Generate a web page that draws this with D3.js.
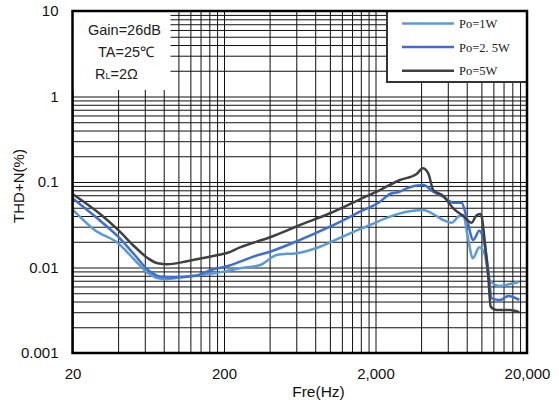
<!DOCTYPE html>
<html><head><meta charset="utf-8">
<script src="https://cdn.jsdelivr.net/npm/d3@7"></script>
<style>body{margin:0;background:#fff}svg{display:block}</style>
</head><body>
<svg id="c" width="559" height="407"></svg>
<script>
// ---- data ----
const seriesNames = ["Po=1W", "Po=2.5W", "Po=5W"];
const legendLabels = ["Po=1W", "Po=2. 5W", "Po=5W"];
const freq1W = [20,28,40,51.5,63,81,110,142,174,212,255,346,446,635,860,1357,1840,2490,3210,4140,4810,5600,6370,7040,7560,8200,8760,9690,10560,11280,13270,15450,17800];
const thd1W  = [0.0479,0.0275,0.0192,0.01224,0.00856,0.00728,0.0078,0.00818,0.00856,0.00918,0.00979,0.0107,0.0140,0.0149,0.0175,0.0251,0.0314,0.0393,0.0449,0.0471,0.0422,0.0359,0.0334,0.0393,0.0411,0.0210,0.0128,0.0172,0.0140,0.00714,0.00608,0.00641,0.00682];
const freq2W5 = [20,31,40,51.5,63,77,94.5,128,165,212,255,312,402,635,1000,1580,2140,2490,2900,3210,4140,4810,5600,6520,7410,7910,8840,9690,10400,11100,11700,13270,15050,17800];
const thd2W5  = [0.0645,0.0343,0.0229,0.0140,0.00935,0.0078,0.00768,0.00796,0.00935,0.0104,0.0117,0.0134,0.0153,0.0210,0.0300,0.0449,0.0588,0.0724,0.0770,0.0844,0.0923,0.0770,0.0673,0.0573,0.0573,0.0411,0.0210,0.0269,0.0200,0.00935,0.00436,0.00417,0.00464,0.00417];
const freq5W = [20,31,40,51.5,63,73,85,110,142,182,212,255,402,635,1000,1580,2140,2900,3740,4100,4460,4810,5600,6520,7600,8630,9310,9900,10560,11100,11520,12600,15450,17800];
const thd5W  = [0.0724,0.0411,0.0275,0.0175,0.0128,0.0112,0.0109,0.0117,0.0128,0.0140,0.0149,0.0172,0.0226,0.0314,0.0431,0.0628,0.0806,0.1055,0.124,0.1446,0.126,0.0806,0.0686,0.0493,0.0400,0.0334,0.0411,0.0422,0.0192,0.0078,0.00348,0.00318,0.00318,0.0030];
const xTickLabels = [20, 200, 2000, 20000];
const yTickLabels = [0.001, 0.01, 0.1, 1, 10];
const notes = ["Gain=26dB", "TA=25\u2103"];
const colors = ["#5b9bd5", "#3f6fce", "#404040"];

// ---- layout ----
const L = 72.5, R = 527, T = 11, B = 353;
const svg = d3.select("#c");
const x = d3.scaleLog().domain([20, 20000]).range([L, R]);
const y = d3.scaleLog().domain([0.001, 10]).range([B, T]);

const gridX = [];
[20, 200, 2000].forEach(d => { for (let k = 1; k <= 9; k++) gridX.push(d * k); });
gridX.push(20000);
const gridY = [];
[0.001, 0.01, 0.1, 1].forEach(d => { for (let k = 1; k <= 9; k++) gridY.push(d * k); });
gridY.push(10);

// grid
const gx = svg.append("g").attr("transform", `translate(0,${B})`)
  .call(d3.axisBottom(x).tickValues(gridX).tickSize(-(B - T)).tickFormat(""));
gx.select(".domain").remove();
gx.selectAll("line").attr("stroke", "#111").attr("stroke-width", 1);
const gy = svg.append("g").attr("transform", `translate(${L},0)`)
  .call(d3.axisLeft(y).tickValues(gridY).tickSize(-(R - L)).tickFormat(""));
gy.select(".domain").remove();
gy.selectAll("line").attr("stroke", "#111").attr("stroke-width", 1);

// annotation box
svg.append("rect").attr("x", L).attr("y", T).attr("width", 98).attr("height", 79).attr("fill", "#fff");
const noteG = svg.append("g").attr("font-family", "'Liberation Sans', Arial, sans-serif").attr("font-size", 14.5).attr("fill", "#222");
noteG.append("text").attr("x", 88).attr("y", 35).text(notes[0]);
noteG.append("text").attr("x", 98).attr("y", 57).text(notes[1]);
const rl = noteG.append("text").attr("x", 95).attr("y", 79);
rl.append("tspan").text("R");
rl.append("tspan").attr("font-size", 9).text("L");
rl.append("tspan").text("=2\u03A9");

// legend box
const lg = svg.append("g");
lg.append("rect").attr("x", 387).attr("y", T).attr("width", R - 387).attr("height", 71)
  .attr("fill", "#fff").attr("stroke", "#333").attr("stroke-width", 2);
legendLabels.forEach((lab, i) => {
  const yy = 23.5 + i * 23.6;
  lg.append("line").attr("x1", 402).attr("x2", 454).attr("y1", yy).attr("y2", yy)
    .attr("stroke", colors[i]).attr("stroke-width", 2.5);
  lg.append("text").attr("x", 459).attr("y", yy + 4.5)
    .attr("font-family", "'Liberation Serif', 'DejaVu Serif', serif").attr("font-size", 12.5)
    .attr("fill", "#222").text(lab);
});

// curves
const line = d3.line().x(d => x(d[0])).y(d => y(d[1])).curve(d3.curveMonotoneX);
const data = [
  d3.zip(freq1W, thd1W),
  d3.zip(freq2W5, thd2W5),
  d3.zip(freq5W, thd5W)
];
data.forEach((ser, i) => {
  svg.append("path").datum(ser).attr("d", line)
    .attr("fill", "none").attr("stroke", colors[i]).attr("stroke-width", 2.5)
    .attr("stroke-linejoin", "round");
});

// frame
svg.append("rect").attr("x", L).attr("y", T).attr("width", R - L).attr("height", B - T)
  .attr("fill", "none").attr("stroke", "#000").attr("stroke-width", 2.5);

// tick labels
const ax = svg.append("g").attr("transform", `translate(0,${B})`)
  .call(d3.axisBottom(x).tickValues(xTickLabels).tickSize(0).tickPadding(15).tickFormat(d3.format(",")));
ax.select(".domain").remove();
ax.selectAll("text").attr("font-family", "'Liberation Sans', Arial, sans-serif").attr("font-size", 15).attr("fill", "#111");
const ay = svg.append("g").attr("transform", `translate(${L},0)`)
  .call(d3.axisLeft(y).tickValues(yTickLabels).tickSize(0).tickPadding(14).tickFormat(d => String(d)));
ay.select(".domain").remove();
ay.selectAll("text").attr("font-family", "'Liberation Sans', Arial, sans-serif").attr("font-size", 15).attr("fill", "#111");

// axis titles
svg.append("text").attr("x", 318.5).attr("y", 397).attr("text-anchor", "middle")
  .attr("font-family", "'Liberation Sans', Arial, sans-serif").attr("font-size", 15.5).attr("fill", "#111").text("Fre(Hz)");
svg.append("text").attr("transform", "translate(24,186) rotate(-90)").attr("text-anchor", "middle")
  .attr("font-family", "'Liberation Sans', Arial, sans-serif").attr("font-size", 15).attr("fill", "#111").text("THD+N(%)");
</script>
</body></html>
